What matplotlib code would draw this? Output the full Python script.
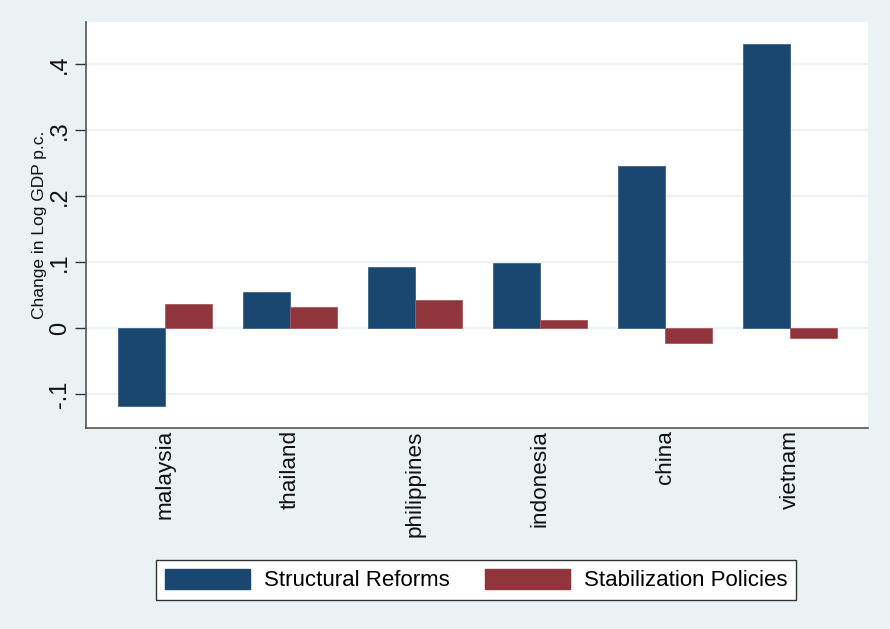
import numpy as np
import matplotlib.pyplot as plt
from matplotlib.patches import Patch

plt.rcParams['font.family'] = ['Liberation Sans', 'DejaVu Sans']

countries = ['malaysia', 'thailand', 'philippines', 'indonesia', 'china', 'vietnam']
structural = [-0.118, 0.055, 0.092, 0.098, 0.245, 0.430]
stabilization = [0.036, 0.032, 0.042, 0.012, -0.022, -0.015]
yticks = [-0.1, 0, 0.1, 0.2, 0.3, 0.4]
ytick_labels = ['-.1', '0', '.1', '.2', '.3', '.4']

navy = '#1a476f'
maroon = '#90353b'
bg = '#eaf2f3'

fig = plt.figure(figsize=(8.9, 6.29), dpi=100, facecolor=bg)
ax = fig.add_axes([0.0966, 0.3196, 0.8787, 0.6454])
ax.set_facecolor('white')

x = np.arange(len(countries))
w = 0.376
ax.bar(x - w / 2, structural, w, color=navy, edgecolor='#3c6285', linewidth=0.6, zorder=3)
ax.bar(x + w / 2, stabilization, w, color=maroon, edgecolor='#a85a5f', linewidth=0.6, zorder=3)

ax.set_xlim(-0.632, 5.624)
ax.set_ylim(-0.1515, 0.4636)

ax.set_yticks(yticks)
ax.set_yticklabels(ytick_labels, rotation=90, va='center', fontsize=17)
ax.set_xticks(x)
ax.set_xticklabels(countries, rotation=90, fontsize=16.2)
ax.tick_params(axis='x', length=0, pad=1.5)
ax.tick_params(axis='y', length=8, width=1, color='#333333', pad=3)
for t in ax.get_xticklabels() + ax.get_yticklabels():
    t.set_color('#111111')

ax.grid(axis='y', color=bg, linewidth=1.5, zorder=0)
ax.set_axisbelow(True)

for s in ['top', 'right']:
    ax.spines[s].set_visible(False)
for s in ['left', 'bottom']:
    ax.spines[s].set_color('#555555')
    ax.spines[s].set_linewidth(1.2)

ax.set_ylabel('Change in Log GDP p.c.', fontsize=12.5, color='#111111', labelpad=1)

handles = [Patch(facecolor=navy, edgecolor=navy), Patch(facecolor=maroon, edgecolor=maroon)]
leg = fig.legend(handles, ['Structural Reforms', 'Stabilization Policies'],
                 loc='center', bbox_to_anchor=(476 / 890, 1 - 580 / 629), ncol=2,
                 fontsize=16, frameon=True, fancybox=False, edgecolor='#333333',
                 handlelength=3.85, handleheight=1.05, handletextpad=0.6,
                 columnspacing=1.6, borderpad=0.4, framealpha=1)
leg.get_frame().set_linewidth(1.0)

fig.savefig('out.png', dpi=100, facecolor=bg)
